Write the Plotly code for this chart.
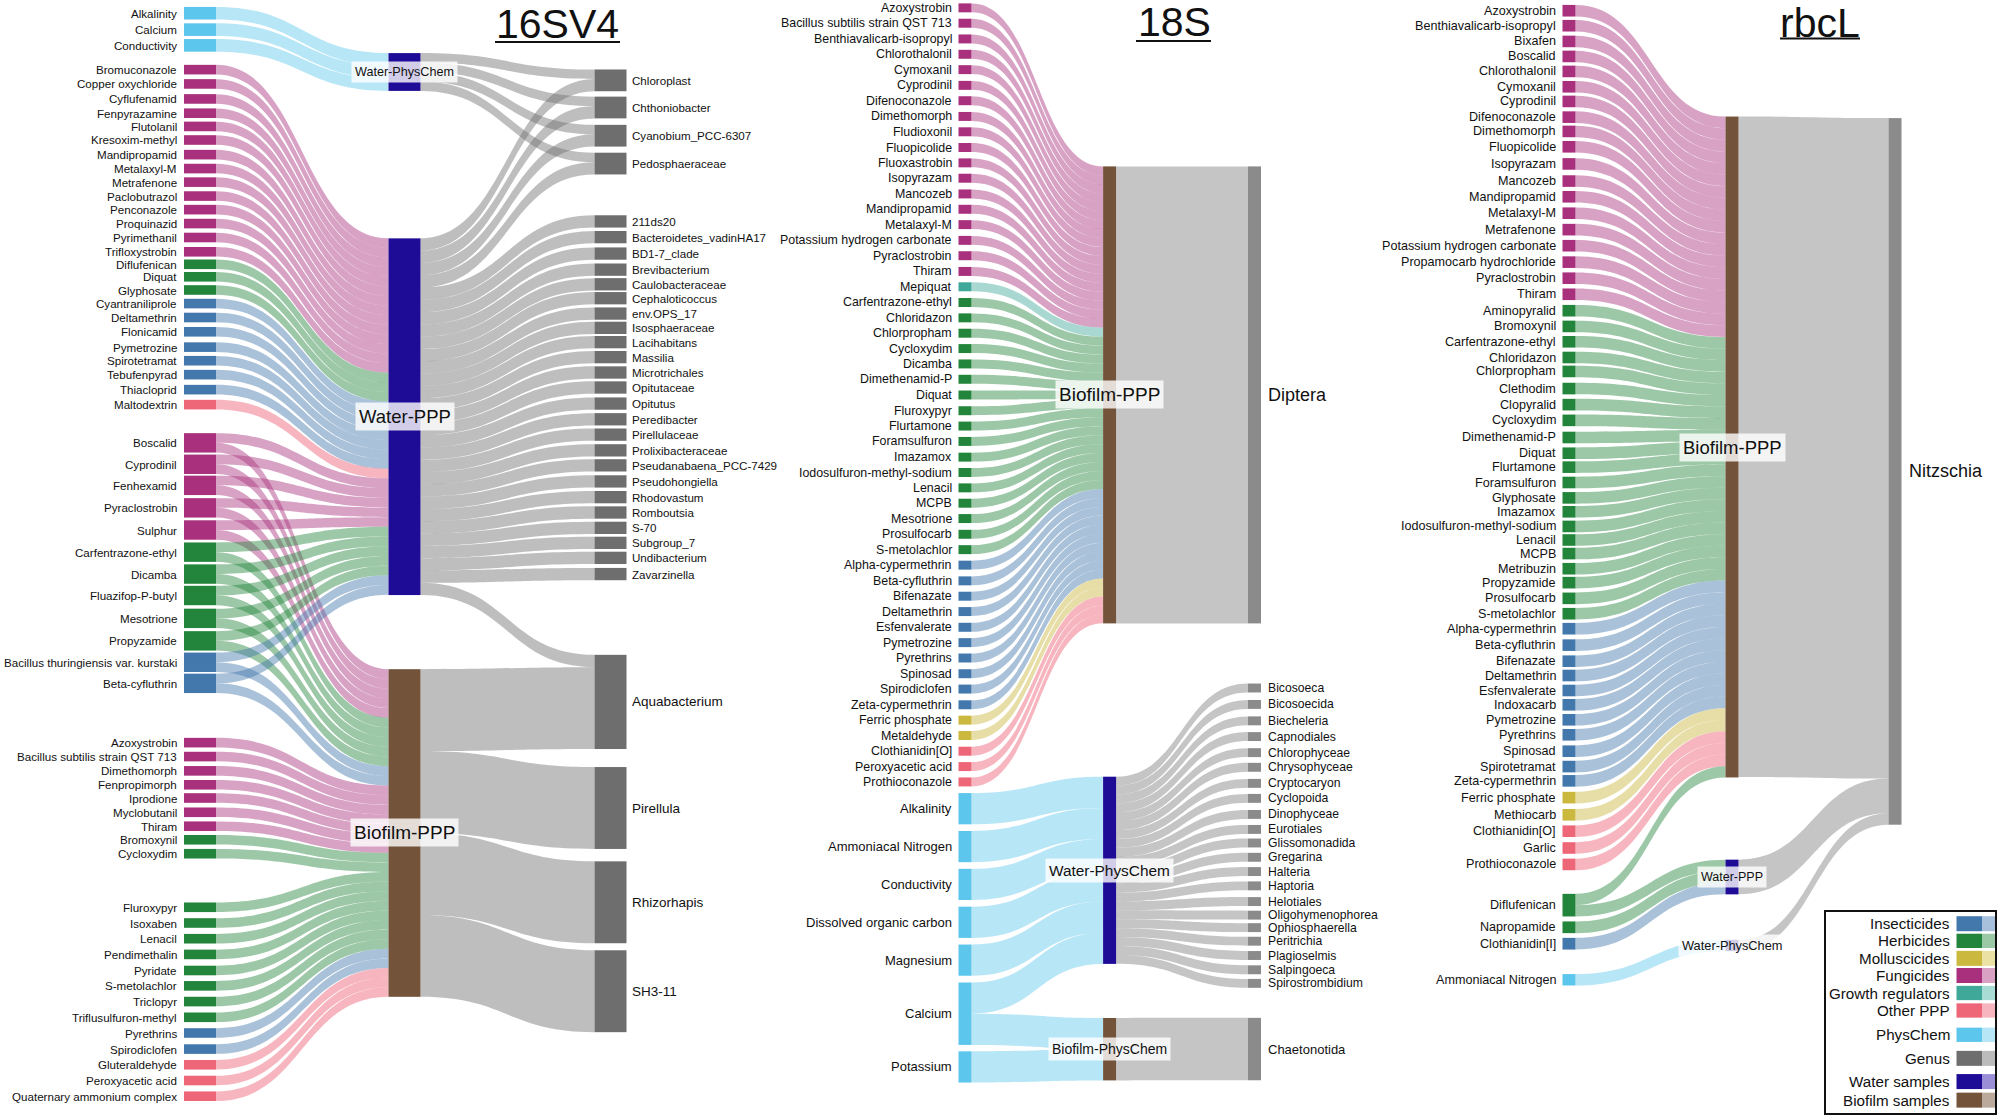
import plotly.graph_objects as go

WIDTH, HEIGHT = 2000, 1118

# ---------- classes / colours ----------
CLASS_DARK = {"I": "#4378AC", "H": "#23853B", "M": "#CBB83F", "F": "#A8307C",
              "G": "#3FA898", "O": "#EE6779", "P": "#5CC6EC"}
CLASS_LINK = {"I": "rgba(67,120,172,0.46)", "H": "rgba(35,133,59,0.45)", "M": "rgba(203,184,63,0.46)",
              "F": "rgba(168,48,124,0.45)", "G": "rgba(63,168,152,0.45)", "O": "rgba(238,103,121,0.48)",
              "P": "rgba(92,198,236,0.44)"}
WATER = "#1E0B96"
BIOFILM = "#73533A"

# ---------- 16SV4 ----------
S16_LEFT = ["Alkalinity", "Calcium", "Conductivity",
            "Bromuconazole", "Copper oxychloride", "Cyflufenamid", "Fenpyrazamine", "Flutolanil", "Kresoxim-methyl",
            "Mandipropamid", "Metalaxyl-M", "Metrafenone", "Paclobutrazol", "Penconazole", "Proquinazid",
            "Pyrimethanil", "Trifloxystrobin", "Diflufenican", "Diquat", "Glyphosate", "Cyantraniliprole",
            "Deltamethrin", "Flonicamid", "Pymetrozine", "Spirotetramat", "Tebufenpyrad", "Thiacloprid", "Maltodextrin",
            "Boscalid", "Cyprodinil", "Fenhexamid", "Pyraclostrobin", "Sulphur", "Carfentrazone-ethyl",
            "Dicamba", "Fluazifop-P-butyl", "Mesotrione", "Propyzamide", "Bacillus thuringiensis var. kurstaki",
            "Beta-cyfluthrin",
            "Azoxystrobin", "Bacillus subtilis strain QST 713", "Dimethomorph", "Fenpropimorph", "Iprodione",
            "Myclobutanil", "Thiram", "Bromoxynil", "Cycloxydim", "Fluroxypyr", "Isoxaben", "Lenacil",
            "Pendimethalin", "Pyridate", "S-metolachlor", "Triclopyr", "Triflusulfuron-methyl", "Pyrethrins",
            "Spirodiclofen", "Gluteraldehyde", "Peroxyacetic acid", "Quaternary ammonium complex"]
S16_CLASS = "PPP" + "FFFFFFFFFFFFFF" + "HHH" + "IIIIIII" + "O" + "FFFFF" + "HHHHH" + "II" + "FFFFFFF" + "HH" + "HHHHHHHH" + "II" + "OOO"
S16_TO_WATER = [12.6, 12.6, 12.6,
                9.6, 9.6, 9.6, 9.6, 9.6, 9.6, 9.6, 9.6, 9.6, 9.6, 9.6, 9.6, 9.6, 9.6,
                9.6, 9.6, 9.6, 9.6, 9.6, 9.6, 9.6, 9.6, 9.6, 9.6, 9.6,
                9.7, 9.7, 9.7, 9.7, 9.7, 9.7, 9.7, 9.7, 9.7, 9.7, 9.7, 9.7,
                0, 0, 0, 0, 0, 0, 0, 0, 0, 0, 0, 0, 0, 0, 0, 0, 0, 0, 0, 0, 0, 0]
S16_TO_BIOFILM = [0, 0, 0,
                  0, 0, 0, 0, 0, 0, 0, 0, 0, 0, 0, 0, 0, 0,
                  0, 0, 0, 0, 0, 0, 0, 0, 0, 0, 0,
                  9.7, 9.7, 9.7, 9.7, 9.7, 9.7, 9.7, 9.7, 9.7, 9.7, 9.7, 9.7,
                  9.6, 9.6, 9.6, 9.6, 9.6, 9.6, 9.6, 9.6, 9.6, 9.6, 9.6, 9.6, 9.6, 9.6, 9.6,
                  9.6, 9.6, 9.6, 9.6, 9.6, 9.6, 9.6]
S16_GENUS = ["Chloroplast", "Chthoniobacter", "Cyanobium_PCC-6307", "Pedosphaeraceae",
             "211ds20", "Bacteroidetes_vadinHA17", "BD1-7_clade", "Brevibacterium", "Caulobacteraceae",
             "Cephaloticoccus", "env.OPS_17", "Isosphaeraceae", "Lacihabitans", "Massilia", "Microtrichales",
             "Opitutaceae", "Opitutus", "Peredibacter", "Pirellulaceae", "Prolixibacteraceae",
             "Pseudanabaena_PCC-7429", "Pseudohongiella", "Rhodovastum", "Romboutsia", "S-70", "Subgroup_7",
             "Undibacterium", "Zavarzinella", "Aquabacterium", "Pirellula", "Rhizorhapis", "SH3-11"]
S16_FROM_WATER_PHYS = [9.45, 9.45, 9.45, 9.45, 0, 0, 0, 0, 0, 0, 0, 0, 0, 0, 0, 0, 0, 0, 0, 0, 0, 0, 0, 0, 0, 0, 0, 0, 0, 0, 0, 0]
S16_FROM_WATER_PPP = [12.3, 12.3, 12.3, 12.3, 12.3, 12.3, 12.3, 12.3, 12.3, 12.3, 12.3, 12.3, 12.3, 12.3, 12.3, 12.3,
                      12.3, 12.3, 12.3, 12.3, 12.3, 12.3, 12.3, 12.3, 12.3, 12.3, 12.3, 12.3, 12.3, 0, 0, 0]
S16_FROM_BIOFILM_PPP = [0, 0, 0, 0, 0, 0, 0, 0, 0, 0, 0, 0, 0, 0, 0, 0, 0, 0, 0, 0, 0, 0, 0, 0, 0, 0, 0, 0, 81.9, 81.9, 81.9, 81.9]

# node centre readings, in pixels of the page
S16_LEFT_Y = [v / 2.8 for v in [37, 83, 127, 195, 235, 277, 317, 354, 392, 433, 472, 510, 549, 587, 626, 665, 705,
                                740, 775, 812, 850, 889, 929, 972, 1010, 1049, 1091, 1133,
                                1240, 1300, 1359, 1422, 1484, 1546]] + \
             [558 + v / 2.8 for v in [45, 105, 169, 232, 292, 351, 517, 556, 596, 635, 672, 712, 751, 789, 828,
                                      978, 1022, 1066, 1110, 1155, 1198, 1242, 1286, 1330, 1375, 1419, 1463, 1507]]
S16_GENUS_Y = [v / 2.8 for v in [225, 301, 380, 458, 620, 664, 710, 755, 796, 835, 878, 918, 958, 1000, 1043, 1085,
                                 1130, 1174, 1217, 1261, 1303, 1348, 1392, 1435, 1478, 1520, 1562]] + \
              [558 + v / 2.8 for v in [45, 403, 700, 964, 1213]]
S16_MID = ["Water-PhysChem", "Water-PPP", "Biofilm-PPP"]
S16_MID_Y = [72, 416.7, 833]
S16_MID_LABEL_Y = [72, 416.7, 832]
S16_MID_LABEL_SIZE = [12.6, 18.5, 19]

# ---------- 18S ----------
S18_LEFT = ["Azoxystrobin", "Bacillus subtilis strain QST 713", "Benthiavalicarb-isopropyl", "Chlorothalonil",
            "Cymoxanil", "Cyprodinil", "Difenoconazole", "Dimethomorph", "Fludioxonil", "Fluopicolide", "Fluoxastrobin",
            "Isopyrazam", "Mancozeb", "Mandipropamid", "Metalaxyl-M", "Potassium hydrogen carbonate", "Pyraclostrobin",
            "Thiram", "Mepiquat", "Carfentrazone-ethyl", "Chloridazon", "Chlorpropham", "Cycloxydim", "Dicamba",
            "Dimethenamid-P", "Diquat", "Fluroxypyr", "Flurtamone", "Foramsulfuron", "Imazamox",
            "Iodosulfuron-methyl-sodium", "Lenacil", "MCPB", "Mesotrione", "Prosulfocarb", "S-metolachlor",
            "Alpha-cypermethrin", "Beta-cyfluthrin", "Bifenazate", "Deltamethrin", "Esfenvalerate", "Pymetrozine",
            "Pyrethrins", "Spinosad", "Spirodiclofen", "Zeta-cypermethrin", "Ferric phosphate", "Metaldehyde",
            "Clothianidin[O]", "Peroxyacetic acid", "Prothioconazole",
            "Alkalinity", "Ammoniacal Nitrogen", "Conductivity", "Dissolved organic carbon", "Magnesium", "Calcium",
            "Potassium"]
S18_CLASS = "FFFFFFFFFFFFFFFFFF" + "G" + "HHHHHHHHHHHHHHHHH" + "IIIIIIIIII" + "MM" + "OOO" + "PPPPPPP"
S18_TO_WATER = [0, 0, 0, 0, 0, 0, 0, 0, 0, 0, 0, 0, 0, 0, 0, 0, 0, 0, 0, 0, 0, 0, 0, 0, 0, 0, 0, 0, 0, 0, 0, 0, 0, 0, 0,
                0, 0, 0, 0, 0, 0, 0, 0, 0, 0, 0, 0, 0, 0, 0, 0, 31.2, 31.2, 31.2, 31.2, 31.2, 31.2, 0]
S18_TO_BIOFILM = [8.96, 8.96, 8.96, 8.96, 8.96, 8.96, 8.96, 8.96, 8.96, 8.96, 8.96, 8.96, 8.96, 8.96, 8.96, 8.96, 8.96,
                  8.96, 8.96, 8.96, 8.96, 8.96, 8.96, 8.96, 8.96, 8.96, 8.96, 8.96, 8.96, 8.96, 8.96, 8.96, 8.96, 8.96,
                  8.96, 8.96, 8.96, 8.96, 8.96, 8.96, 8.96, 8.96, 8.96, 8.96, 8.96, 8.96, 8.96, 8.96, 8.96, 8.96, 8.96,
                  0, 0, 0, 0, 0, 31.2, 31.2]
S18_GENUS = ["Diptera", "Bicosoeca", "Bicosoecida", "Biecheleria", "Capnodiales", "Chlorophyceae", "Chrysophyceae",
             "Cryptocaryon", "Cyclopoida", "Dinophyceae", "Eurotiales", "Glissomonadida", "Gregarina", "Halteria",
             "Haptoria", "Helotiales", "Oligohymenophorea", "Ophiosphaerella", "Peritrichia", "Plagioselmis",
             "Salpingoeca", "Spirostrombidium", "Chaetonotida"]
S18_FROM_BIOFILM_PPP = [457, 0, 0, 0, 0, 0, 0, 0, 0, 0, 0, 0, 0, 0, 0, 0, 0, 0, 0, 0, 0, 0, 0]
S18_FROM_WATER_PHYS = [0, 8.91, 8.91, 8.91, 8.91, 8.91, 8.91, 8.91, 8.91, 8.91, 8.91, 8.91, 8.91, 8.91, 8.91, 8.91,
                       8.91, 8.91, 8.91, 8.91, 8.91, 8.91, 0]
S18_FROM_BIOFILM_PHYS = [0, 0, 0, 0, 0, 0, 0, 0, 0, 0, 0, 0, 0, 0, 0, 0, 0, 0, 0, 0, 0, 0, 62.4]

S18_LEFT_Y = [v / 2.8 for v in [22, 65, 109, 152, 195, 239, 282, 326, 369, 413, 456, 499, 543, 586, 629, 673, 716, 760,
                                803, 847, 890, 933, 976, 1019, 1062, 1106, 1150, 1193, 1236, 1280, 1323, 1366, 1409,
                                1452, 1496, 1539]] + \
             [558 + v / 2.8 for v in [20, 64, 107, 150, 194, 237, 280, 324, 367, 411, 454, 497, 541, 584, 627,
                                      702, 808, 914, 1020, 1126, 1276, 1425]]
S18_GENUS_Y = [394.9] + [558 + v / 2.8 for v in [364, 410, 456, 500, 545, 586, 631, 673, 718, 760, 798, 838, 878, 918,
                                                 962, 1000, 1035, 1073, 1113, 1153, 1191, 1375]]
S18_MID = ["Biofilm-PPP", "Water-PhysChem", "Biofilm-PhysChem"]
S18_MID_Y = [394.9, 870.3, 1049.2]
S18_MID_LABEL_Y = [394.6, 870.5, 1049.4]
S18_MID_LABEL_SIZE = [19, 15.4, 14]

# ---------- rbcL ----------
RB_LEFT = ["Azoxystrobin", "Benthiavalicarb-isopropyl", "Bixafen", "Boscalid", "Chlorothalonil", "Cymoxanil",
           "Cyprodinil", "Difenoconazole", "Dimethomorph", "Fluopicolide", "Isopyrazam", "Mancozeb", "Mandipropamid",
           "Metalaxyl-M", "Metrafenone", "Potassium hydrogen carbonate", "Propamocarb hydrochloride", "Pyraclostrobin",
           "Thiram", "Aminopyralid", "Bromoxynil", "Carfentrazone-ethyl", "Chloridazon", "Chlorpropham", "Clethodim",
           "Clopyralid", "Cycloxydim", "Dimethenamid-P", "Diquat", "Flurtamone", "Foramsulfuron", "Glyphosate",
           "Imazamox", "Iodosulfuron-methyl-sodium", "Lenacil", "MCPB", "Metribuzin", "Propyzamide", "Prosulfocarb",
           "S-metolachlor", "Alpha-cypermethrin", "Beta-cyfluthrin", "Bifenazate", "Deltamethrin", "Esfenvalerate",
           "Indoxacarb", "Pymetrozine", "Pyrethrins", "Spinosad", "Spirotetramat", "Zeta-cypermethrin",
           "Ferric phosphate", "Methiocarb", "Clothianidin[O]", "Garlic", "Prothioconazole", "Diflufenican",
           "Napropamide", "Clothianidin[I]", "Ammoniacal Nitrogen"]
RB_CLASS = "FFFFFFFFFFFFFFFFFFF" + "HHHHHHHHHHHHHHHHHHHHH" + "IIIIIIIIIII" + "MM" + "OOO" + "HH" + "I" + "P"
RB_TO_WATER = [0, 0, 0, 0, 0, 0, 0, 0, 0, 0, 0, 0, 0, 0, 0, 0, 0, 0, 0, 0, 0, 0, 0, 0, 0, 0, 0, 0, 0, 0, 0, 0, 0, 0, 0,
               0, 0, 0, 0, 0, 0, 0, 0, 0, 0, 0, 0, 0, 0, 0, 0, 0, 0, 0, 0, 0, 11.3, 11.7, 11.7, 11.4]
RB_TO_BIOFILM = [11.6, 11.6, 11.6, 11.6, 11.6, 11.6, 11.6, 11.6, 11.6, 11.6, 11.6, 11.6, 11.6, 11.6, 11.6, 11.6, 11.6,
                 11.6, 11.6, 11.6, 11.6, 11.6, 11.6, 11.6, 11.6, 11.6, 11.6, 11.6, 11.6, 11.6, 11.6, 11.6, 11.6, 11.6,
                 11.6, 11.6, 11.6, 11.6, 11.6, 11.6, 11.6, 11.6, 11.6, 11.6, 11.6, 11.6, 11.6, 11.6, 11.6, 11.6, 11.6,
                 11.6, 11.6, 11.6, 11.6, 11.6, 11.3, 0, 0, 0]
RB_GENUS = ["Nitzschia"]
RB_FROM_BIOFILM_PPP = [660.5]
RB_FROM_WATER_PPP = [34.7]
RB_FROM_WATER_PHYS = [11.4]

RB_LEFT_Y = [v / 2.8 for v in [30, 72, 116, 158, 200, 243, 284, 328, 368, 411, 459, 507, 551, 597, 643, 688, 734, 779,
                               824, 870, 914, 957, 1001, 1040, 1088, 1133, 1177, 1225, 1269, 1308, 1351, 1394, 1433,
                               1474, 1512, 1550]] + \
            [558 + v / 2.8 for v in [30, 69, 113, 156, 198, 244, 289, 329, 371, 411, 453, 495, 541, 584, 624, 671, 719,
                                     765, 812, 858, 972, 1034, 1080, 1181]]
RB_GENUS_Y = [471.4]
RB_MID = ["Biofilm-PPP", "Water-PPP", "Water-PhysChem"]
RB_MID_Y = [447, 877, 945.5]
RB_MID_LABEL_SIZE = [18.5, 12.5, 12.8]

# ---------- legend ----------
LEGEND_LABELS = ["Insecticides", "Herbicides", "Molluscicides", "Fungicides", "Growth regulators", "Other PPP",
                 "PhysChem", "Genus", "Water samples", "Biofilm samples"]
LEGEND_DARK = ["#4378AC", "#23853B", "#CBB83F", "#A8307C", "#3FA898", "#EE6779", "#5CC6EC", "#6E6E6E", "#1E0B96", "#73533A"]
LEGEND_LIGHT = ["#A7C0DC", "#9CC9A5", "#EBE1A3", "#D9A1C4", "#A8DCD4", "#F6B5BF", "#B7E6F6", "#BBBBBB", "#9A8FD6", "#BBA99B"]
LEGEND_ROW_TOP = [558 + v / 2.8 for v in [1003, 1052, 1100, 1148, 1198, 1247, 1315, 1380, 1445, 1497]]
LEGEND_ROW_BOT = [558 + v / 2.8 for v in [1045, 1092, 1142, 1190, 1238, 1287, 1355, 1422, 1487, 1539]]

FONT = "Liberation Sans"
annotations, shapes = [], []


def note(x, y, text, size, anchor="center", bg=None):
    a = dict(x=x / WIDTH, y=1 - y / HEIGHT, xref="paper", yref="paper", text=text, showarrow=False,
             xanchor=anchor, yanchor="middle", borderpad=3 if bg else 0,
             font=dict(family=FONT, size=size, color="#111111"))
    if bg:
        a["bgcolor"] = bg
    annotations.append(a)


def panel(left, classes, to_water, to_biofilm, left_y, mids, mid_y, mid_sizes, genus, flows, genus_y,
          xs, thick, genus_node, genus_link, left_sizes=None, genus_sizes=None, mid_label_y=None, genus_gap=6,
          genus_default=12.2):
    names = list(left) + list(mids) + list(genus)
    idx_mid = {m: len(left) + i for i, m in enumerate(mids)}
    idx_gen = {g: len(left) + len(mids) + i for i, g in enumerate(genus)}
    src, tgt, val, col = [], [], [], []
    for i, c in enumerate(classes):
        kind = "PhysChem" if c == "P" else "PPP"
        if to_water[i]:
            src.append(i); tgt.append(idx_mid["Water-" + kind]); val.append(to_water[i]); col.append(CLASS_LINK[c])
        if to_biofilm[i]:
            src.append(i); tgt.append(idx_mid["Biofilm-" + kind]); val.append(to_biofilm[i]); col.append(CLASS_LINK[c])
    for mid, vals in flows:
        for j, v in enumerate(vals):
            if v:
                src.append(idx_mid[mid]); tgt.append(idx_gen[genus[j]]); val.append(v); col.append(genus_link)
    node_x = [xs[0] / WIDTH] * len(left) + [xs[1] / WIDTH] * len(mids) + [xs[2] / WIDTH] * len(genus)
    ys = list(left_y) + list(mid_y) + list(genus_y)
    node_y = [y / HEIGHT for y in ys]
    colors = [CLASS_DARK[c] for c in classes] + [WATER if m.startswith("Water") else BIOFILM for m in mids] + [genus_node] * len(genus)
    total = sum(to_water) + sum(to_biofilm)
    pad = (HEIGHT - total) / (len(left) - 1)
    trace = go.Sankey(arrangement="fixed", domain=dict(x=[0, 1], y=[0, 1]),
                      node=dict(label=[""] * len(names), customdata=names, x=node_x, y=node_y, color=colors,
                                thickness=thick, pad=pad, line=dict(width=0),
                                hovertemplate="%{customdata}<extra></extra>"),
                      link=dict(source=src, target=tgt, value=val, color=col, hoverinfo="skip"))
    for i, n in enumerate(left):
        note(xs[0] - thick / 2 - 6, left_y[i], n, left_sizes(i), "right")
    for j, g in enumerate(genus):
        size = genus_sizes.get(g, genus_default) if genus_sizes else genus_default
        note(xs[2] + thick / 2 + genus_gap, genus_y[j], g, size, "left")
    for k, m in enumerate(mids):
        yy = mid_label_y[k] if mid_label_y else mid_y[k]
        note(xs[1], yy, m, mid_sizes[k], "center", "rgba(255,255,255,0.8)")
    return trace


traces = [
    panel(S16_LEFT, S16_CLASS, S16_TO_WATER, S16_TO_BIOFILM, S16_LEFT_Y, S16_MID, S16_MID_Y, S16_MID_LABEL_SIZE,
          S16_GENUS, [("Water-PhysChem", S16_FROM_WATER_PHYS), ("Water-PPP", S16_FROM_WATER_PPP),
                      ("Biofilm-PPP", S16_FROM_BIOFILM_PPP)], S16_GENUS_Y,
          (200, 404.5, 610.5), 32, "#6E6E6E", "rgba(110,110,110,0.45)",
          left_sizes=lambda i: 11.6, genus_gap=4, genus_default=11.6, mid_label_y=S16_MID_LABEL_Y,
          genus_sizes={"Aquabacterium": 13.5, "Pirellula": 13.5, "Rhizorhapis": 13.5, "SH3-11": 13.5}),
    panel(S18_LEFT, S18_CLASS, S18_TO_WATER, S18_TO_BIOFILM, S18_LEFT_Y, S18_MID, S18_MID_Y, S18_MID_LABEL_SIZE,
          S18_GENUS, [("Biofilm-PPP", S18_FROM_BIOFILM_PPP), ("Water-PhysChem", S18_FROM_WATER_PHYS),
                      ("Biofilm-PhysChem", S18_FROM_BIOFILM_PHYS)], S18_GENUS_Y,
          (965, 1109.6, 1254.5), 13, "#8B8B8B", "rgba(139,139,139,0.5)",
          left_sizes=lambda i: 13 if S18_CLASS[i] == "P" else 12.4,
          genus_sizes={"Diptera": 18, "Chaetonotida": 13}, mid_label_y=S18_MID_LABEL_Y),
    panel(RB_LEFT, RB_CLASS, RB_TO_WATER, RB_TO_BIOFILM, RB_LEFT_Y, RB_MID, RB_MID_Y, RB_MID_LABEL_SIZE,
          RB_GENUS, [("Biofilm-PPP", RB_FROM_BIOFILM_PPP), ("Water-PPP", RB_FROM_WATER_PPP),
                     ("Water-PhysChem", RB_FROM_WATER_PHYS)], RB_GENUS_Y,
          (1569, 1732, 1895), 13, "#8B8B8B", "rgba(139,139,139,0.5)",
          left_sizes=lambda i: 12.6, genus_sizes={"Nitzschia": 18}),
]

# titles with their rules
TITLES = ["16SV4", "18S", "rbcL"]
TITLE_X = [557, 1174, 1820]
TITLE_Y = [24, 22, 23]
RULE_X0 = [495, 1136, 1780]
RULE_X1 = [620, 1211, 1860]
RULE_Y = [42, 41, 38.6]
for t, x, y, x0, x1, ry in zip(TITLES, TITLE_X, TITLE_Y, RULE_X0, RULE_X1, RULE_Y):
    note(x, y, t, 41, "center")
    shapes.append(dict(type="line", xref="paper", yref="paper", x0=x0 / WIDTH, x1=x1 / WIDTH,
                       y0=1 - ry / HEIGHT, y1=1 - ry / HEIGHT, line=dict(color="#111111", width=2)))

# legend
shapes.append(dict(type="rect", xref="paper", yref="paper", x0=1825 / WIDTH, x1=1996 / WIDTH,
                   y0=1 - 1114 / HEIGHT, y1=1 - 911 / HEIGHT, line=dict(color="#111111", width=2), fillcolor="white"))
for lab, dark, light, top, bot in zip(LEGEND_LABELS, LEGEND_DARK, LEGEND_LIGHT, LEGEND_ROW_TOP, LEGEND_ROW_BOT):
    shapes.append(dict(type="rect", xref="paper", yref="paper", x0=1956.5 / WIDTH, x1=1982 / WIDTH,
                       y0=1 - bot / HEIGHT, y1=1 - top / HEIGHT, line=dict(width=0), fillcolor=dark))
    shapes.append(dict(type="rect", xref="paper", yref="paper", x0=1982 / WIDTH, x1=1995 / WIDTH,
                       y0=1 - bot / HEIGHT, y1=1 - top / HEIGHT, line=dict(width=0), fillcolor=light))
    note(1951, (top + bot) / 2, lab, 15.2, "right")

fig = go.Figure(traces)
fig.update_layout(width=WIDTH, height=HEIGHT, margin=dict(l=0, r=0, t=0, b=0), paper_bgcolor="white",
                  plot_bgcolor="white", showlegend=False, annotations=annotations, shapes=shapes,
                  font=dict(family=FONT))
fig.write_html("out.html", config=dict(displayModeBar=False),
               post_script="document.body.style.margin='0';document.body.style.overflow='hidden';")
